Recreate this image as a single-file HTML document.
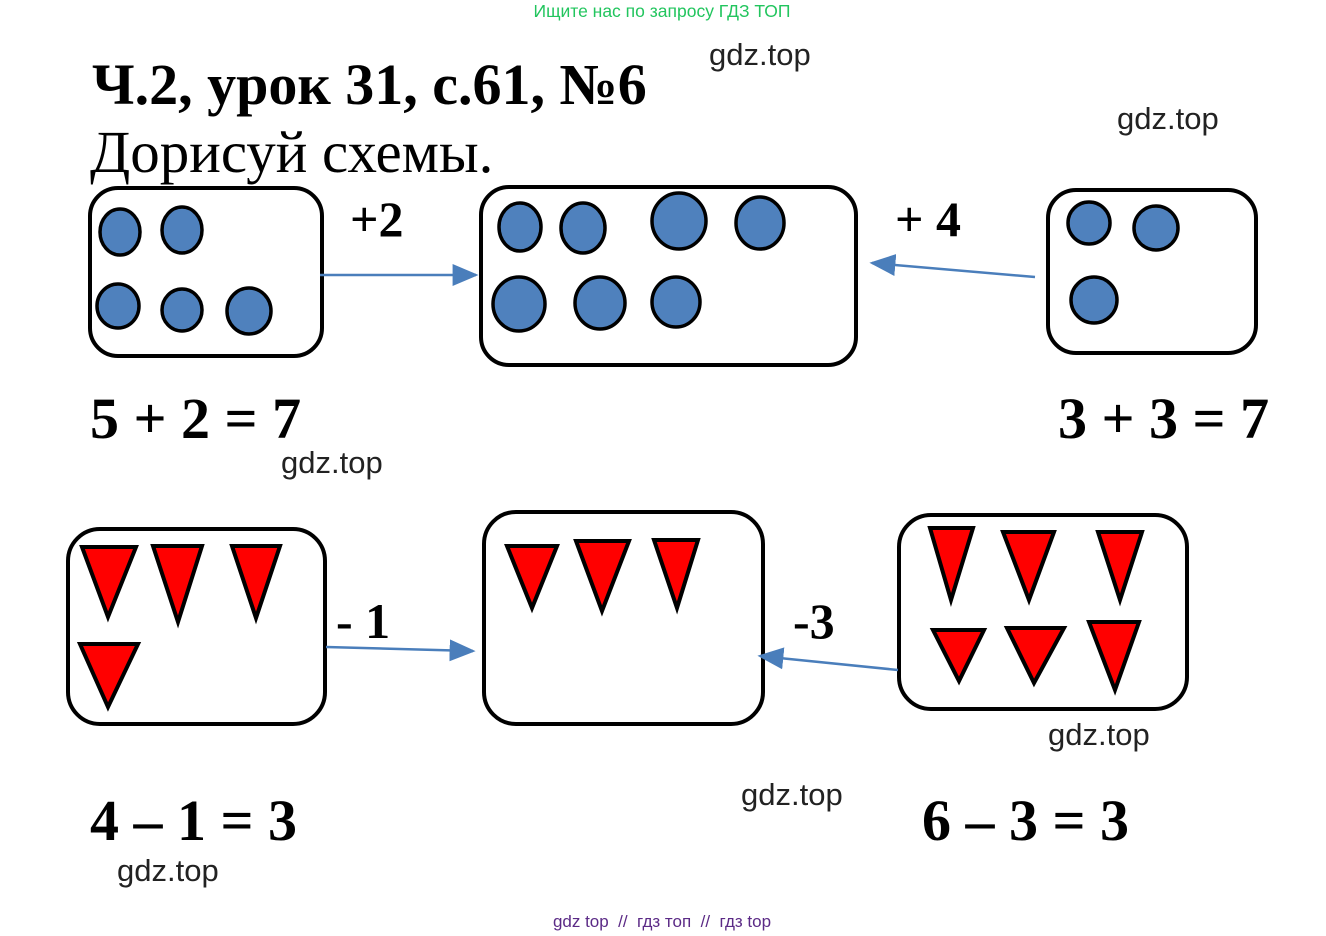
<!DOCTYPE html>
<html><head><meta charset="utf-8"><style>
body{margin:0;background:#fff;width:1326px;height:936px;overflow:hidden}
svg{display:block}
.s{font-family:"Liberation Serif",serif;font-weight:bold}
.g{font-family:"Liberation Sans",sans-serif;font-size:31px;fill:#222}
</style></head><body>
<svg width="1326" height="936" viewBox="0 0 1326 936">
<defs>
<marker id="m" viewBox="0 0 10 10" refX="9" refY="5" markerWidth="26" markerHeight="22" orient="auto" markerUnits="userSpaceOnUse" preserveAspectRatio="none"><path d="M0,0 L10,5 L0,10 z" fill="#4a7ebb"/></marker></defs>
<text x="662" y="17" text-anchor="middle" font-family="Liberation Sans,sans-serif" font-size="17.5" fill="#22c55e">Ищите нас по запросу ГДЗ ТОП</text>
<text x="92" y="104" class="s" font-size="58">Ч.2, урок 31, с.61, №6</text>
<text x="90" y="172" font-family="Liberation Serif,serif" font-size="59">Дорисуй схемы.</text>
<text x="709" y="65" class="g">gdz.top</text>
<text x="1117" y="129" class="g">gdz.top</text>
<text x="281" y="473" class="g">gdz.top</text>
<text x="1048" y="745" class="g">gdz.top</text>
<text x="741" y="805" class="g">gdz.top</text>
<text x="117" y="881" class="g">gdz.top</text>
<g fill="none" stroke="#000" stroke-width="4">
<rect x="90" y="188" width="232" height="168" rx="28"/>
<rect x="481" y="187" width="375" height="178" rx="28"/>
<rect x="1048" y="190" width="208" height="163" rx="28"/>
<rect x="68" y="529" width="257" height="195" rx="32"/>
<rect x="484" y="512" width="279" height="212" rx="32"/>
<rect x="899" y="515" width="288" height="194" rx="32"/>
</g>
<g fill="#4f81bd" stroke="#000" stroke-width="3.5">
<ellipse cx="120" cy="232" rx="20" ry="23"/><ellipse cx="182" cy="230" rx="20" ry="23"/>
<ellipse cx="118" cy="306" rx="21" ry="22"/><ellipse cx="182" cy="310" rx="20" ry="21"/><ellipse cx="249" cy="311" rx="22" ry="23"/>
<ellipse cx="520" cy="227" rx="21" ry="24"/><ellipse cx="583" cy="228" rx="22" ry="25"/><ellipse cx="679" cy="221" rx="27" ry="28"/><ellipse cx="760" cy="223" rx="24" ry="26"/>
<ellipse cx="519" cy="304" rx="26" ry="27"/><ellipse cx="600" cy="303" rx="25" ry="26"/><ellipse cx="676" cy="302" rx="24" ry="25"/>
<ellipse cx="1089" cy="223" rx="21" ry="21"/><ellipse cx="1156" cy="228" rx="22" ry="22"/><ellipse cx="1094" cy="300" rx="23" ry="23"/>
</g>
<g fill="#f00" stroke="#000" stroke-width="4" stroke-linejoin="miter">
<polygon points="82,547 136,547 108,617"/><polygon points="153,546 202,546 178,622"/><polygon points="232,546 280,546 256,618"/><polygon points="80,644 138,644 108,707"/>
<polygon points="507,546 557,546 532,608"/><polygon points="576,541 629,541 602,611"/><polygon points="654,540 698,540 677,608"/>
<polygon points="930,528 973,528 951,600"/><polygon points="1003,532 1054,532 1029,600"/><polygon points="1098,532 1142,532 1120,600"/>
<polygon points="933,630 984,630 959,681"/><polygon points="1007,628 1064,628 1034,683"/><polygon points="1089,622 1139,622 1115,690"/>
</g>
<g stroke="#4a7ebb" stroke-width="2.5" marker-end="url(#m)">
<line x1="320" y1="275" x2="476" y2="275"/>
<line x1="1035" y1="277" x2="872" y2="263"/>
<line x1="326" y1="647" x2="473" y2="651"/>
<line x1="898" y1="670" x2="760" y2="656"/>
</g>
<text x="350" y="236" class="s" font-size="50">+2</text>
<text x="895" y="236" class="s" font-size="50">+ 4</text>
<text x="336" y="638" class="s" font-size="50">- 1</text>
<text x="793" y="638" class="s" font-size="50">-3</text>
<text x="90" y="438" class="s" font-size="58">5 + 2 = 7</text>
<text x="1058" y="438" class="s" font-size="58">3 + 3 = 7</text>
<text x="90" y="840" class="s" font-size="58">4 – 1 = 3</text>
<text x="922" y="840" class="s" font-size="58">6 – 3 = 3</text>
<text x="662" y="927" text-anchor="middle" font-family="Liberation Sans,sans-serif" font-size="17" fill="#5b2a86" xml:space="preserve">gdz top  //  гдз топ  //  гдз top</text>
</svg>
</body></html>
